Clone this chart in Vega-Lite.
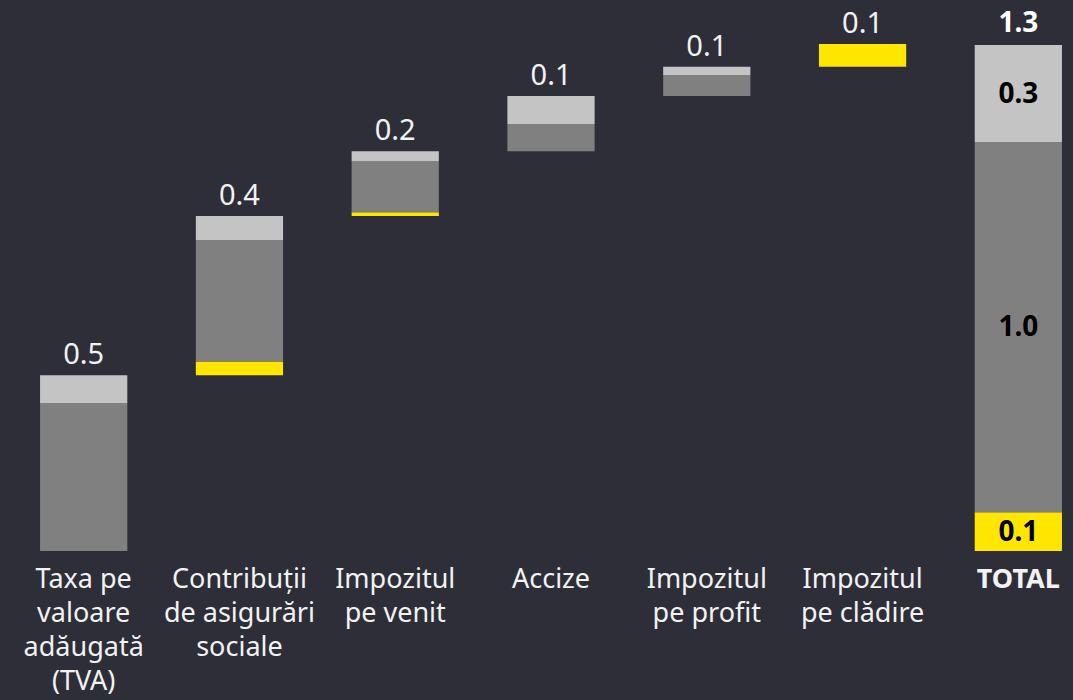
{
  "$schema": "https://vega.github.io/schema/vega-lite/v6.json",
  "width": 1073,
  "height": 551,
  "autosize": {"type": "none"},
  "padding": {"left": 0, "top": 0, "right": 0, "bottom": 149},
  "background": "#2e2e38",
  "config": {"view": {"stroke": null}, "font": "Noto Sans", "text": {"font": "Noto Sans"}},
  "datasets": {
    "items": [
      {"cat": "Taxa pe\nvaloare\nadăugată\n(TVA)", "ci": 1, "seg": "Categoria 2", "si": 2, "v": 0.380},
      {"cat": "Taxa pe\nvaloare\nadăugată\n(TVA)", "ci": 1, "seg": "Categoria 3", "si": 3, "v": 0.072},
      {"cat": "Contribuții\nde asigurări\nsociale", "ci": 2, "seg": "Categoria 1", "si": 1, "v": 0.036},
      {"cat": "Contribuții\nde asigurări\nsociale", "ci": 2, "seg": "Categoria 2", "si": 2, "v": 0.312},
      {"cat": "Contribuții\nde asigurări\nsociale", "ci": 2, "seg": "Categoria 3", "si": 3, "v": 0.062},
      {"cat": "Impozitul\npe venit", "ci": 3, "seg": "Categoria 1", "si": 1, "v": 0.010},
      {"cat": "Impozitul\npe venit", "ci": 3, "seg": "Categoria 2", "si": 2, "v": 0.131},
      {"cat": "Impozitul\npe venit", "ci": 3, "seg": "Categoria 3", "si": 3, "v": 0.026},
      {"cat": "Accize", "ci": 4, "seg": "Categoria 2", "si": 2, "v": 0.070},
      {"cat": "Accize", "ci": 4, "seg": "Categoria 3", "si": 3, "v": 0.072},
      {"cat": "Impozitul\npe profit", "ci": 5, "seg": "Categoria 2", "si": 2, "v": 0.054},
      {"cat": "Impozitul\npe profit", "ci": 5, "seg": "Categoria 3", "si": 3, "v": 0.021},
      {"cat": "Impozitul\npe clădire", "ci": 6, "seg": "Categoria 1", "si": 1, "v": 0.059}
    ],
    "total": [
      {"cat": "TOTAL", "seg": "Categoria 1", "si": 1, "v": 0.100},
      {"cat": "TOTAL", "seg": "Categoria 2", "si": 2, "v": 0.952},
      {"cat": "TOTAL", "seg": "Categoria 3", "si": 3, "v": 0.250}
    ]
  },
  "encoding": {
    "x": {
      "field": "cat",
      "type": "nominal",
      "scale": {
        "domain": ["Taxa pe\nvaloare\nadăugată\n(TVA)", "Contribuții\nde asigurări\nsociale", "Impozitul\npe venit", "Accize", "Impozitul\npe profit", "Impozitul\npe clădire", "TOTAL"],
        "paddingInner": 0.44,
        "paddingOuter": 0.164,
        "align": 0.784
      },
      "axis": {
        "title": null,
        "domain": false,
        "ticks": false,
        "grid": false,
        "labelAngle": 0,
        "labelColor": "#f2f2f2",
        "labelFont": "Noto Sans",
        "labelFontSize": 27,
        "labelPadding": 15,
        "labelLineHeight": 34,
        "labelLimit": 0,
        "labelOverlap": false,
        "labelBound": false,
        "labelExpr": "split(datum.value, '\\n')",
        "labelFontWeight": {"condition": {"test": "datum.value == 'TOTAL'", "value": "bold"}, "value": "normal"}
      }
    }
  },
  "layer": [
    {
      "data": {"name": "items"},
      "transform": [
        {"window": [{"op": "sum", "field": "v", "as": "end"}], "sort": [{"field": "ci"}, {"field": "si"}], "frame": [null, 0]},
        {"calculate": "datum.end - datum.v", "as": "start"}
      ],
      "mark": {"type": "bar"},
      "encoding": {
        "y": {"field": "start", "type": "quantitative", "scale": {"domain": [0, 1.418], "nice": false, "zero": true}, "axis": null},
        "y2": {"field": "end"},
        "color": {"field": "seg", "type": "nominal", "scale": {"domain": ["Categoria 1", "Categoria 2", "Categoria 3"], "range": ["#ffe600", "#808080", "#c4c4c4"]}, "legend": null}
      }
    },
    {
      "data": {"name": "items"},
      "transform": [
        {"window": [{"op": "sum", "field": "v", "as": "end"}], "sort": [{"field": "ci"}, {"field": "si"}], "frame": [null, 0]},
        {"aggregate": [{"op": "sum", "field": "v", "as": "tot"}, {"op": "max", "field": "end", "as": "top"}], "groupby": ["cat"]}
      ],
      "mark": {"type": "text", "baseline": "alphabetic", "dy": -11, "fontSize": 29, "color": "#f2f2f2"},
      "encoding": {
        "y": {"field": "top", "type": "quantitative", "axis": null},
        "text": {"field": "tot", "type": "quantitative", "format": ".1f"}
      }
    },
    {
      "data": {"name": "total"},
      "transform": [
        {"window": [{"op": "sum", "field": "v", "as": "end"}], "sort": [{"field": "si"}], "frame": [null, 0]},
        {"calculate": "datum.end - datum.v", "as": "start"}
      ],
      "mark": {"type": "bar"},
      "encoding": {
        "y": {"field": "start", "type": "quantitative", "axis": null},
        "y2": {"field": "end"},
        "color": {"field": "seg", "type": "nominal", "legend": null}
      }
    },
    {
      "data": {"name": "total"},
      "transform": [
        {"window": [{"op": "sum", "field": "v", "as": "end"}], "sort": [{"field": "si"}], "frame": [null, 0]},
        {"calculate": "datum.end - datum.v / 2", "as": "mid"}
      ],
      "mark": {"type": "text", "baseline": "middle", "dy": 1, "fontSize": 28, "fontWeight": "bold", "color": "#000000"},
      "encoding": {
        "y": {"field": "mid", "type": "quantitative", "axis": null},
        "text": {"field": "v", "type": "quantitative", "format": ".1f"}
      }
    },
    {
      "data": {"name": "total"},
      "transform": [
        {"aggregate": [{"op": "sum", "field": "v", "as": "tot"}], "groupby": ["cat"]}
      ],
      "mark": {"type": "text", "baseline": "alphabetic", "dy": -13, "fontSize": 28, "fontWeight": "bold", "color": "#ffffff"},
      "encoding": {
        "y": {"field": "tot", "type": "quantitative", "axis": null},
        "text": {"field": "tot", "type": "quantitative", "format": ".1f"}
      }
    }
  ]
}
